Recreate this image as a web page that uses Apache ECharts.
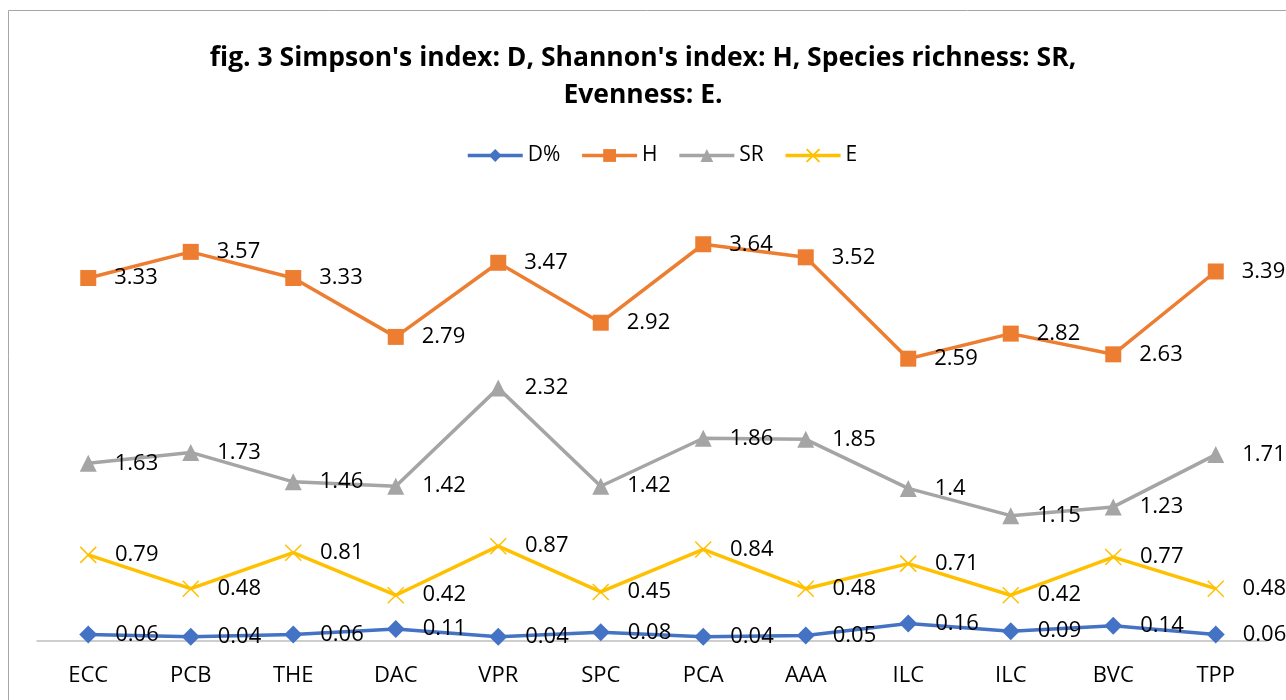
<!DOCTYPE html>
<html>
<head>
<meta charset="utf-8">
<script src="https://cdn.jsdelivr.net/npm/echarts@6/dist/echarts.min.js"></script>
<style>
  html, body { margin: 0; padding: 0; background: #fff; }
  #chart { width: 1286px; height: 700px; }
</style>
</head>
<body>
<div id="chart"></div>
<script>
var categories = ['ECC', 'PCB', 'THE', 'DAC', 'VPR', 'SPC', 'PCA', 'AAA', 'ILC', 'ILC', 'BVC', 'TPP'];
var dValues  = [0.06, 0.04, 0.06, 0.11, 0.04, 0.08, 0.04, 0.05, 0.16, 0.09, 0.14, 0.06];
var hValues  = [3.33, 3.57, 3.33, 2.79, 3.47, 2.92, 3.64, 3.52, 2.59, 2.82, 2.63, 3.39];
var srValues = [1.63, 1.73, 1.46, 1.42, 2.32, 1.42, 1.86, 1.85, 1.4, 1.15, 1.23, 1.71];
var eValues  = [0.79, 0.48, 0.81, 0.42, 0.87, 0.45, 0.84, 0.48, 0.71, 0.42, 0.77, 0.48];

var FONT = '"Open Sans", "Noto Sans", sans-serif';

var chart = echarts.init(document.getElementById('chart'));

function makeSeries(name, data, color, symbol, size, extra) {
    var s = {
        name: name,
        type: 'line',
        data: data,
        symbol: symbol,
        symbolSize: size,
        showAllSymbol: true,
        lineStyle: { color: color, width: 3.5 },
        itemStyle: { color: color },
        label: {
            show: true,
            position: 'right',
            distance: 18,
            color: '#000',
            fontFamily: FONT,
            fontSize: 22
        },
        emphasis: { disabled: true },
        animation: false
    };
    if (extra) {
        for (var k in extra) s[k] = extra[k];
    }
    return s;
}

chart.setOption({
    backgroundColor: '#fff',
    graphic: [{
        type: 'rect',
        shape: { x: 8.5, y: 10.5, width: 1300, height: 720 },
        style: { fill: 'none', stroke: '#a6a6a6', lineWidth: 1 },
        silent: true,
        z: -1
    }],
    title: {
        text: "fig. 3 Simpson's index: D, Shannon's index: H, Species richness: SR,\nEvenness: E.",
        left: 'center',
        top: 35,
        textStyle: {
            fontFamily: FONT,
            fontWeight: 'bold',
            fontSize: 26.5,
            lineHeight: 37,
            color: '#000'
        }
    },
    legend: {
        top: 140,
        left: 461,
        itemWidth: 55,
        itemHeight: 16,
        itemGap: 20,
        lineStyle: { width: 3.5 },
        textStyle: { fontFamily: FONT, fontSize: 21, color: '#000' },
        data: ['D%', 'H', 'SR', 'E']
    },
    grid: { left: 37, right: 19, top: 205, bottom: 59 },
    xAxis: {
        type: 'category',
        data: categories,
        boundaryGap: true,
        axisLine: { lineStyle: { color: '#bfbfbf', width: 1.5 } },
        axisTick: { show: false },
        axisLabel: {
            color: '#000',
            fontFamily: FONT,
            fontSize: 22,
            margin: 24,
            interval: 0
        }
    },
    yAxis: {
        type: 'value',
        min: 0,
        max: 4,
        show: false,
        splitLine: { show: false }
    },
    series: [
        makeSeries('D%', dValues, '#4472C4', 'diamond', 18),
        makeSeries('H', hValues, '#ED7D31', 'rect', 16),
        makeSeries('SR', srValues, '#A5A5A5', 'triangle', 17),
        makeSeries('E', eValues, '#FFC000', 'path://M0,0L10,10M10,0L0,10', 16, {
            itemStyle: { color: '#FFC000', borderColor: '#FFC000', borderWidth: 1.5 }
        })
    ]
});
</script>
</body>
</html>
